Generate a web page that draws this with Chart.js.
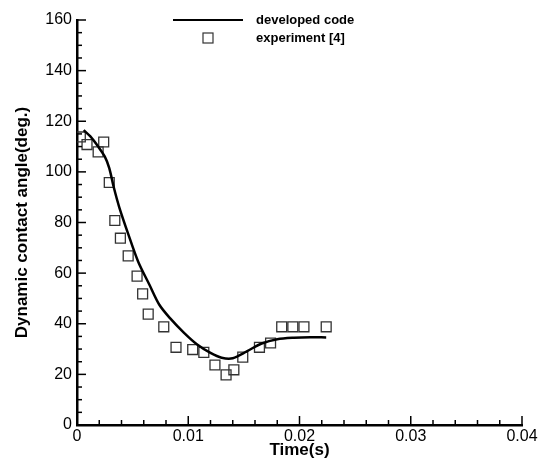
<!DOCTYPE html>
<html>
<head>
<meta charset="utf-8">
<script src="https://cdn.jsdelivr.net/npm/chart.js@4.4.1/dist/chart.umd.min.js"></script>
<style>
  body { margin: 0; background: #fff; }
  #wrap { width: 543px; height: 461px; }
</style>
</head>
<body>
<div id="wrap"><canvas id="chart" width="543" height="461"></canvas></div>
<script>
// developed code (solid curve)
const simTime = [0.0006, 0.0012, 0.0019, 0.0025, 0.0029, 0.0033, 0.0038, 0.0046, 0.0055, 0.0065, 0.0074, 0.0084, 0.0096, 0.0108, 0.0120, 0.0130, 0.0140, 0.0153, 0.0166, 0.0180, 0.0195, 0.0210, 0.0224];
const simAngle = [116.5, 114.0, 110.0, 106.0, 101.5, 94.0, 86.0, 75.5, 64.5, 55.5, 47.5, 42.0, 36.5, 31.8, 28.5, 26.6, 26.4, 29.2, 32.2, 33.9, 34.5, 34.7, 34.6];

// experiment [4] (squares)
const expTime = [0.0003, 0.0009, 0.0019, 0.0024, 0.0029, 0.0034, 0.0039, 0.0046, 0.0054, 0.0059, 0.0064, 0.0078, 0.0089, 0.0104, 0.0114, 0.0124, 0.0134, 0.0141, 0.0149, 0.0164, 0.0174, 0.0184, 0.0194, 0.0204, 0.0224];
const expAngle = [113.8, 110.8, 107.9, 111.8, 95.8, 80.8, 73.8, 66.8, 58.8, 51.8, 43.8, 38.8, 30.7, 29.8, 28.7, 23.7, 19.8, 21.8, 26.8, 30.7, 32.4, 38.8, 38.8, 38.8, 38.8];

const seriesNames = ["developed code", "experiment [4]"];
const xTickLabels = ["0", "0.01", "0.02", "0.03", "0.04"];
const yTickLabels = ["0", "20", "40", "60", "80", "100", "120", "140", "160"];

const FONT = "'Liberation Sans', Arial, sans-serif";

const toPoints = (xs, ys) => xs.map((x, i) => ({ x: x, y: ys[i] }));

// inward tick marks, major and minor, drawn along the axis lines
const tickMarks = {
  id: "tickMarks",
  afterDraw(chart) {
    const { ctx, chartArea, scales } = chart;
    ctx.save();
    ctx.strokeStyle = "#000";
    ctx.lineWidth = 1.5;
    scales.x.ticks.forEach(t => {
      const px = scales.x.getPixelForValue(t.value);
      const major = Math.round(t.value / 0.002) % 5 === 0;
      ctx.beginPath();
      ctx.moveTo(px, chartArea.bottom);
      ctx.lineTo(px, chartArea.bottom - (major ? 9 : 5));
      ctx.stroke();
    });
    scales.y.ticks.forEach(t => {
      const py = scales.y.getPixelForValue(t.value);
      const major = Math.round(t.value) % 20 === 0;
      ctx.beginPath();
      ctx.moveTo(chartArea.left, py);
      ctx.lineTo(chartArea.left + (major ? 9 : 5), py);
      ctx.stroke();
    });
    ctx.restore();
  }
};

// two-row legend at the top, line sample and square sample
const topLegend = {
  id: "topLegend",
  afterDraw(chart) {
    const ctx = chart.ctx;
    const ds = chart.data.datasets;
    ctx.save();
    ctx.strokeStyle = "#000";
    ctx.lineWidth = 2;
    ctx.beginPath();
    ctx.moveTo(173, 20);
    ctx.lineTo(243, 20);
    ctx.stroke();
    ctx.strokeStyle = "#333";
    ctx.lineWidth = 1.2;
    ctx.strokeRect(203, 33, 10, 10);
    ctx.fillStyle = "#000";
    ctx.font = "bold 13px " + FONT;
    ctx.textBaseline = "middle";
    ctx.fillText(ds[0].label, 256, 20);
    ctx.fillText(ds[1].label, 256, 38);
    ctx.restore();
  }
};

new Chart(document.getElementById("chart"), {
  type: "scatter",
  data: {
    datasets: [
      {
        label: seriesNames[0],
        data: toPoints(simTime, simAngle),
        showLine: true,
        borderColor: "#000",
        borderWidth: 2.5,
        pointRadius: 0,
        tension: 0.3
      },
      {
        label: seriesNames[1],
        data: toPoints(expTime, expAngle),
        pointStyle: "rect",
        pointRadius: 7,
        borderColor: "#333",
        borderWidth: 1.3,
        backgroundColor: "rgba(0,0,0,0)"
      }
    ]
  },
  options: {
    responsive: false,
    animation: false,
    layout: { padding: { top: 20, right: 21, left: 0, bottom: 0 } },
    plugins: {
      legend: { display: false },
      tooltip: { enabled: false }
    },
    scales: {
      x: {
        type: "linear",
        min: 0,
        max: 0.04,
        afterFit: s => { s.height = 36; },
        grid: { display: false, drawTicks: false },
        border: { color: "#000", width: 2.5 },
        ticks: {
          stepSize: 0.002,
          autoSkip: false,
          maxRotation: 0,
          padding: 2,
          color: "#000",
          font: { family: FONT, size: 16 },
          callback: v => {
            const k = Math.round(v / 0.002);
            return k % 5 === 0 ? xTickLabels[k / 5] : "";
          }
        },
        title: {
          display: true,
          text: "Time(s)",
          color: "#000",
          font: { family: FONT, size: 17, weight: "bold", lineHeight: 1.2 },
          padding: { top: 0, bottom: 0 }
        }
      },
      y: {
        min: 0,
        max: 160,
        afterFit: s => { s.width = 77; },
        grid: { display: false, drawTicks: false },
        border: { color: "#000", width: 2.5 },
        ticks: {
          stepSize: 5,
          autoSkip: false,
          padding: 5,
          color: "#000",
          font: { family: FONT, size: 16 },
          callback: v => {
            const k = Math.round(v);
            return k % 20 === 0 ? yTickLabels[k / 20] : "";
          }
        },
        title: {
          display: true,
          text: "Dynamic contact angle(deg.)",
          color: "#000",
          font: { family: FONT, size: 17, weight: "bold", lineHeight: 1.2 },
          padding: { top: 12, bottom: 0 }
        }
      }
    }
  },
  plugins: [tickMarks, topLegend]
});
</script>
</body>
</html>
